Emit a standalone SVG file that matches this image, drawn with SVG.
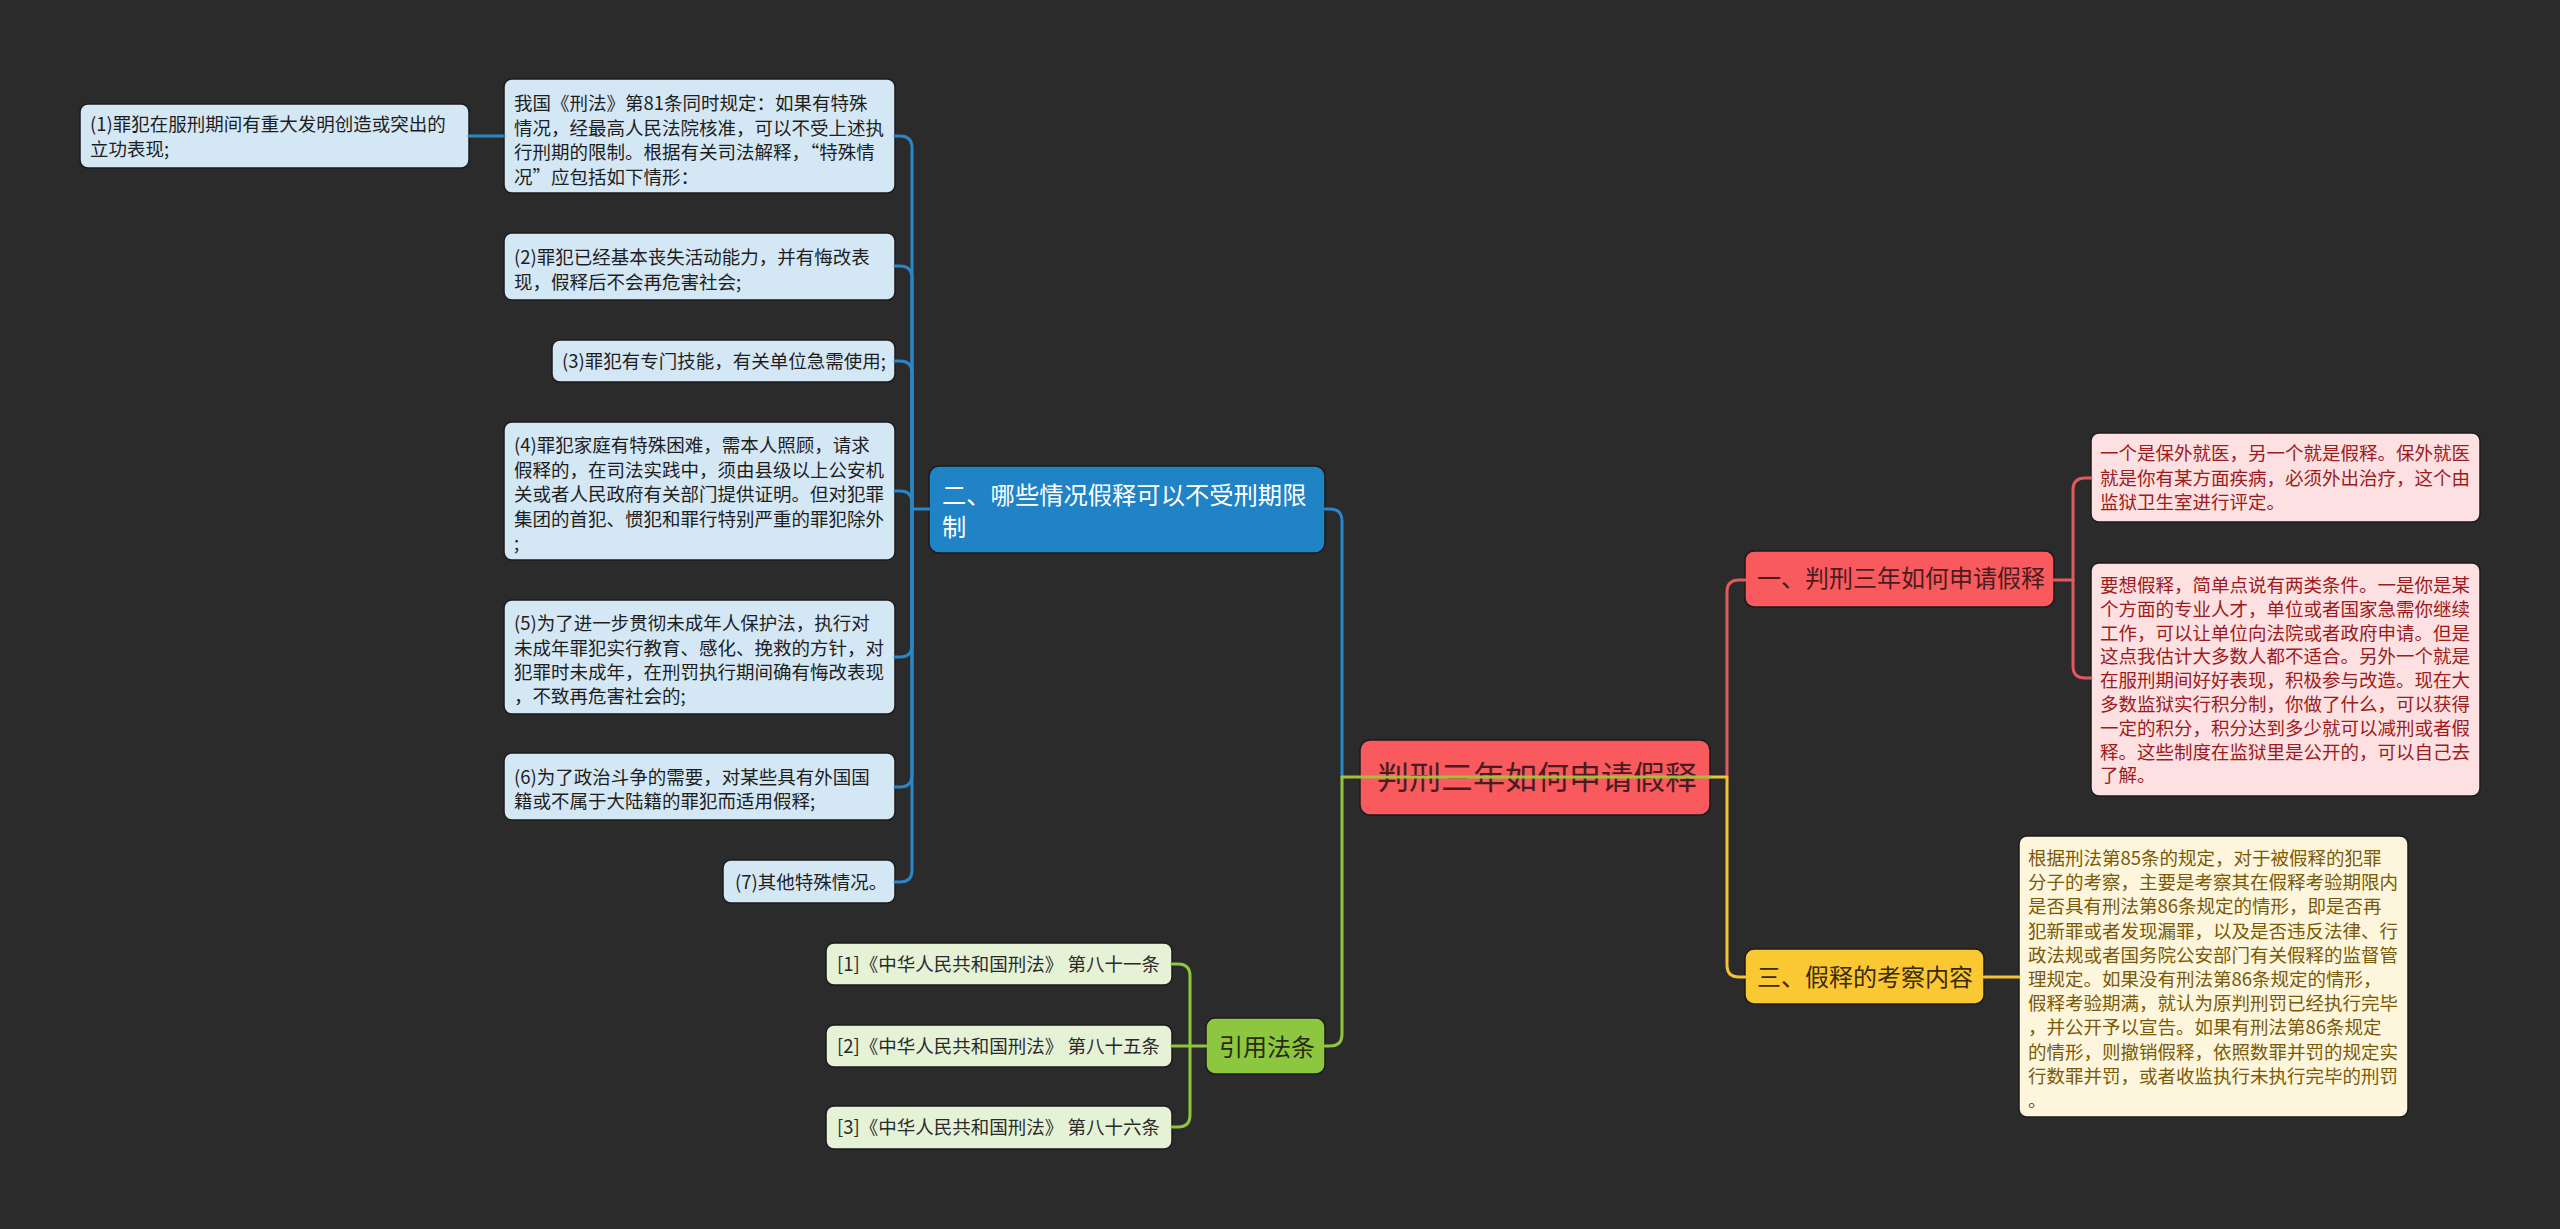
<svg xmlns="http://www.w3.org/2000/svg" width="2560" height="1229" viewBox="0 0 2560 1229">
<style>
text{font-family:"Noto Sans CJK SC","Noto Sans",sans-serif;}
.c{fill:none;stroke-width:3;stroke-linecap:round;stroke-linejoin:round;}
.blue{stroke:#2a86c8;}
.red{stroke:#e35a5e;}
.yel{stroke:#f4c430;}
.grn{stroke:#8dc63f;}
.olive{stroke:#a4bf3a;}
.bc rect{fill:#d4e7f5;stroke:#1b1b1b;stroke-width:1.5;}
.bc text{font-size:18.5px;fill:#1e1e1e;}
.pc rect{fill:#fde0e1;stroke:#1b1b1b;stroke-width:1.5;}
.pc text{font-size:18.5px;fill:#9b1b20;}
.yc rect{fill:#fdf6dc;stroke:#1b1b1b;stroke-width:1.5;}
.yc text{font-size:18.5px;fill:#7a5a08;}
.gc rect{fill:#e6f2d6;stroke:#1b1b1b;stroke-width:1.5;}
.gc text{font-size:18.5px;fill:#2a2a2a;}
</style>
<rect x="0" y="0" width="2560" height="1229" fill="#2b2b2b"/>

<g id="root">
<rect x="1360" y="740" width="350" height="75" rx="10" fill="#f85a5e" stroke="#1b1b1b" stroke-width="1.5"/>
<text x="1377" y="789" font-size="32" fill="#4a1c1f">判刑三年如何申请假释</text>
</g>

<g id="n2">
<rect x="929" y="466" width="396" height="87" rx="10" fill="#1f83c5" stroke="#1b1b1b" stroke-width="1.5"/>
<text font-size="24.3" fill="#ffffff"><tspan x="942" y="504">二、哪些情况假释可以不受刑期限</tspan><tspan x="942" y="536">制</tspan></text>
</g>

<g id="n2-intro" class="bc">
<rect x="504" y="79" width="391" height="114" rx="8"/>
<text><tspan x="514" y="110">我国《刑法》第81条同时规定：如果有特殊</tspan><tspan x="514" y="134.5">情况，经最高人民法院核准，可以不受上述执</tspan><tspan x="514" y="159">行刑期的限制。根据有关司法解释，“特殊情</tspan><tspan x="514" y="183.5">况”应包括如下情形：</tspan></text>
</g>

<g id="n2-1" class="bc">
<rect x="80" y="104" width="389" height="64" rx="8"/>
<text><tspan x="90" y="131">(1)罪犯在服刑期间有重大发明创造或突出的</tspan><tspan x="90" y="155.5">立功表现;</tspan></text>
</g>

<g id="n2-2" class="bc">
<rect x="504" y="233" width="391" height="67" rx="8"/>
<text><tspan x="514" y="264">(2)罪犯已经基本丧失活动能力，并有悔改表</tspan><tspan x="514" y="289">现，假释后不会再危害社会;</tspan></text>
</g>

<g id="n2-3" class="bc">
<rect x="552" y="340" width="343" height="42" rx="8"/>
<text x="562" y="368">(3)罪犯有专门技能，有关单位急需使用;</text>
</g>

<g id="n2-4" class="bc">
<rect x="504" y="422" width="391" height="138" rx="8"/>
<text><tspan x="514" y="452">(4)罪犯家庭有特殊困难，需本人照顾，请求</tspan><tspan x="514" y="476.5">假释的，在司法实践中，须由县级以上公安机</tspan><tspan x="514" y="501">关或者人民政府有关部门提供证明。但对犯罪</tspan><tspan x="514" y="525.5">集团的首犯、惯犯和罪行特别严重的罪犯除外</tspan><tspan x="514" y="550">;</tspan></text>
</g>

<g id="n2-5" class="bc">
<rect x="504" y="600" width="391" height="114" rx="8"/>
<text><tspan x="514" y="630">(5)为了进一步贯彻未成年人保护法，执行对</tspan><tspan x="514" y="654.5">未成年罪犯实行教育、感化、挽救的方针，对</tspan><tspan x="514" y="679">犯罪时未成年，在刑罚执行期间确有悔改表现</tspan><tspan x="514" y="703">，不致再危害社会的;</tspan></text>
</g>

<g id="n2-6" class="bc">
<rect x="504" y="753" width="391" height="67" rx="8"/>
<text><tspan x="514" y="784">(6)为了政治斗争的需要，对某些具有外国国</tspan><tspan x="514" y="808">籍或不属于大陆籍的罪犯而适用假释;</tspan></text>
</g>

<g id="n2-7" class="bc">
<rect x="723" y="860" width="172" height="43" rx="8"/>
<text x="735" y="889">(7)其他特殊情况。</text>
</g>

<g id="n1">
<rect x="1745" y="551" width="309" height="56" rx="9" fill="#f85a5e" stroke="#1b1b1b" stroke-width="1.5"/>
<text x="1757" y="587" font-size="24" fill="#4a1c1f">一、判刑三年如何申请假释</text>
</g>

<g id="n1-a" class="pc">
<rect x="2091" y="433" width="389" height="89" rx="8"/>
<text><tspan x="2100" y="460">一个是保外就医，另一个就是假释。保外就医</tspan><tspan x="2100" y="484.5">就是你有某方面疾病，必须外出治疗，这个由</tspan><tspan x="2100" y="509">监狱卫生室进行评定。</tspan></text>
</g>

<g id="n1-b" class="pc">
<rect x="2091" y="563" width="389" height="233" rx="8"/>
<text><tspan x="2100" y="592">要想假释，简单点说有两类条件。一是你是某</tspan><tspan x="2100" y="615.8">个方面的专业人才，单位或者国家急需你继续</tspan><tspan x="2100" y="639.6">工作，可以让单位向法院或者政府申请。但是</tspan><tspan x="2100" y="663.4">这点我估计大多数人都不适合。另外一个就是</tspan><tspan x="2100" y="687.2">在服刑期间好好表现，积极参与改造。现在大</tspan><tspan x="2100" y="711">多数监狱实行积分制，你做了什么，可以获得</tspan><tspan x="2100" y="734.8">一定的积分，积分达到多少就可以减刑或者假</tspan><tspan x="2100" y="758.6">释。这些制度在监狱里是公开的，可以自己去</tspan><tspan x="2100" y="782.4">了解。</tspan></text>
</g>

<g id="n3">
<rect x="1745" y="949" width="239" height="55" rx="9" fill="#f9c832" stroke="#1b1b1b" stroke-width="1.5"/>
<text x="1757" y="986" font-size="24" fill="#3a2a10">三、假释的考察内容</text>
</g>

<g id="n3-a" class="yc">
<rect x="2019" y="836" width="389" height="281" rx="8"/>
<text><tspan x="2028" y="865">根据刑法第85条的规定，对于被假释的犯罪</tspan><tspan x="2028" y="889.2">分子的考察，主要是考察其在假释考验期限内</tspan><tspan x="2028" y="913.4">是否具有刑法第86条规定的情形，即是否再</tspan><tspan x="2028" y="937.6">犯新罪或者发现漏罪，以及是否违反法律、行</tspan><tspan x="2028" y="961.8">政法规或者国务院公安部门有关假释的监督管</tspan><tspan x="2028" y="986">理规定。如果没有刑法第86条规定的情形，</tspan><tspan x="2028" y="1010.2">假释考验期满，就认为原判刑罚已经执行完毕</tspan><tspan x="2028" y="1034.4">，并公开予以宣告。如果有刑法第86条规定</tspan><tspan x="2028" y="1058.6">的情形，则撤销假释，依照数罪并罚的规定实</tspan><tspan x="2028" y="1082.8">行数罪并罚，或者收监执行未执行完毕的刑罚</tspan><tspan x="2028" y="1107">。</tspan></text>
</g>

<g id="n4">
<rect x="1206" y="1018" width="119" height="56" rx="9" fill="#8dc63f" stroke="#1b1b1b" stroke-width="1.5"/>
<text x="1219" y="1056" font-size="24" fill="#2a2a12">引用法条</text>
</g>

<g id="n4-1" class="gc">
<rect x="826" y="943" width="346" height="42" rx="8"/>
<text x="837" y="971">[1]《中华人民共和国刑法》 第八十一条</text>
</g>
<g id="n4-2" class="gc">
<rect x="826" y="1025" width="346" height="42" rx="8"/>
<text x="837" y="1053">[2]《中华人民共和国刑法》 第八十五条</text>
</g>
<g id="n4-3" class="gc">
<rect x="826" y="1106" width="346" height="43" rx="8"/>
<text x="837" y="1134">[3]《中华人民共和国刑法》 第八十六条</text>
</g>

<g id="connectors">
<path class="c blue" d="M1342,777 V521 Q1342,509 1330,509 H1325"/>
<path class="c blue" d="M929,509 H912"/>
<path class="c blue" d="M912,509 V148 Q912,136 900,136 H895"/>
<path class="c blue" d="M912,509 V278 Q912,266 900,266 H895"/>
<path class="c blue" d="M912,509 V373 Q912,361 900,361 H895"/>
<path class="c blue" d="M912,509 V503 Q912,491 900,491 H895"/>
<path class="c blue" d="M912,509 V645 Q912,657 900,657 H895"/>
<path class="c blue" d="M912,509 V775 Q912,787 900,787 H895"/>
<path class="c blue" d="M912,509 V870 Q912,882 900,882 H895"/>
<path class="c blue" d="M504,136 H469"/>
<path class="c red" d="M1727,777 V592 Q1727,580 1739,580 H1745"/>
<path class="c red" d="M2054,580 H2073"/>
<path class="c red" d="M2073,580 V490 Q2073,478 2085,478 H2091"/>
<path class="c red" d="M2073,580 V666 Q2073,678 2085,678 H2091"/>
<path class="c yel" d="M1710,777 H1727 V965 Q1727,977 1739,977 H1745"/>
<path class="c yel" d="M1984,977 H2019"/>
<path class="c grn" d="M1342,777 V1034 Q1342,1046 1330,1046 H1325"/>
<path class="c grn" d="M1206,1046 H1190"/>
<path class="c grn" d="M1190,1046 V976 Q1190,964 1178,964 H1172"/>
<path class="c grn" d="M1190,1046 H1172"/>
<path class="c grn" d="M1190,1046 V1115 Q1190,1127 1178,1127 H1172"/>
<path class="c olive" d="M1342,777 H1710"/>
</g>
</svg>
